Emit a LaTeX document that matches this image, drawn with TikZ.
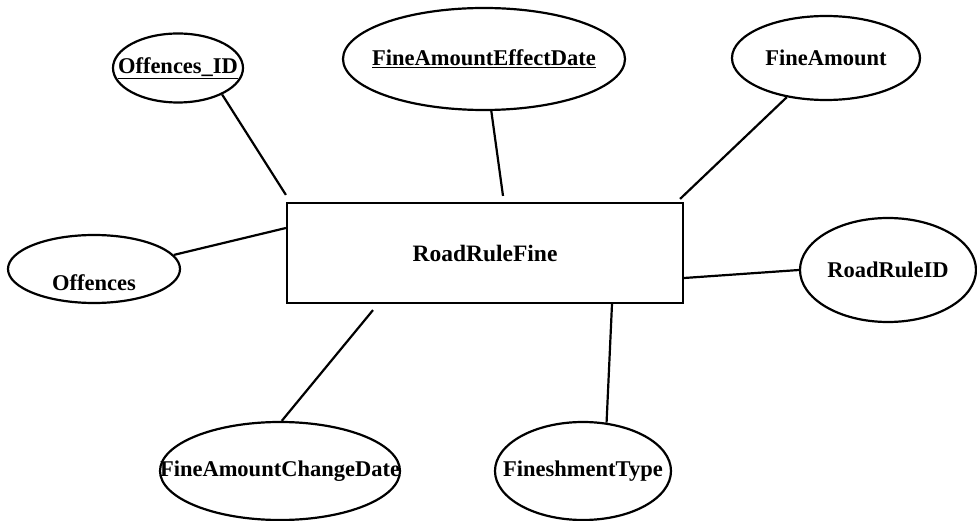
\documentclass[tikz,border=0pt]{standalone}
\usepackage{fontspec}
\setmainfont{Liberation Serif}
\usetikzlibrary{arrows,positioning,shapes.geometric}

\begin{document}
\begin{tikzpicture}[x=1pt,y=-1pt,line width=2.2pt,font=\fontsize{22.5}{26}\selectfont\bfseries]
\tikzstyle{entity} = [rectangle,draw=black,minimum width=396pt,minimum height=100pt,inner sep=0pt,font=\fontsize{23.5}{27}\selectfont\bfseries]
\tikzstyle{attr} = [ellipse,draw=black,inner sep=0pt]
\useasboundingbox (0,0) rectangle (977,521);
    \node[entity] (rrf) at (485,253) {RoadRuleFine};
    \node[attr,minimum width=130pt,minimum height=69pt] (oid) at (178,68) {\makebox[0pt]{\underline{Offences\_ID}}};
    \node[attr,minimum width=282pt,minimum height=102pt] (faed) at (484,59) {\makebox[0pt]{\underline{FineAmountEffectDate}}};
    \node[attr,minimum width=188pt,minimum height=84pt] (fa) at (826,58) {\makebox[0pt]{FineAmount}};
    \node[attr,minimum width=176pt,minimum height=104pt] (rrid) at (888,270) {\makebox[0pt]{RoadRuleID}};
    \node[attr,minimum width=172pt,minimum height=68pt,label={[yshift=-14pt]center:Offences}] (off) at (94,269) {};
    \node[attr,minimum width=240pt,minimum height=98pt] (facd) at (280,471) {\makebox[0pt]{FineAmountChangeDate}};
    \node[attr,minimum width=176pt,minimum height=98pt] (ft) at (583,471) {\makebox[0pt]{FineshmentType}};

    \tikzset{mystyle/.style={-}}
    \draw (oid.-31) edge [mystyle] ([yshift=7pt]rrf.north west);
    \draw (faed.-82) edge [mystyle] ([xshift=18pt,yshift=6pt]rrf.north);
    \draw (fa.-135) edge [mystyle] ([xshift=-4pt,yshift=3pt]rrf.north east);
    \draw (rrid.west) edge [mystyle] ([yshift=-25pt]rrf.east);
    \draw (off.10) edge [mystyle] ([yshift=25pt]rrf.west);
    \draw (rrf.south) ++(-112pt,-6pt) coordinate (facdtop) edge [mystyle] (facd.88);
    \draw (ft.64) edge [mystyle] ([xshift=127pt]rrf.south);
\end{tikzpicture}
\end{document}
